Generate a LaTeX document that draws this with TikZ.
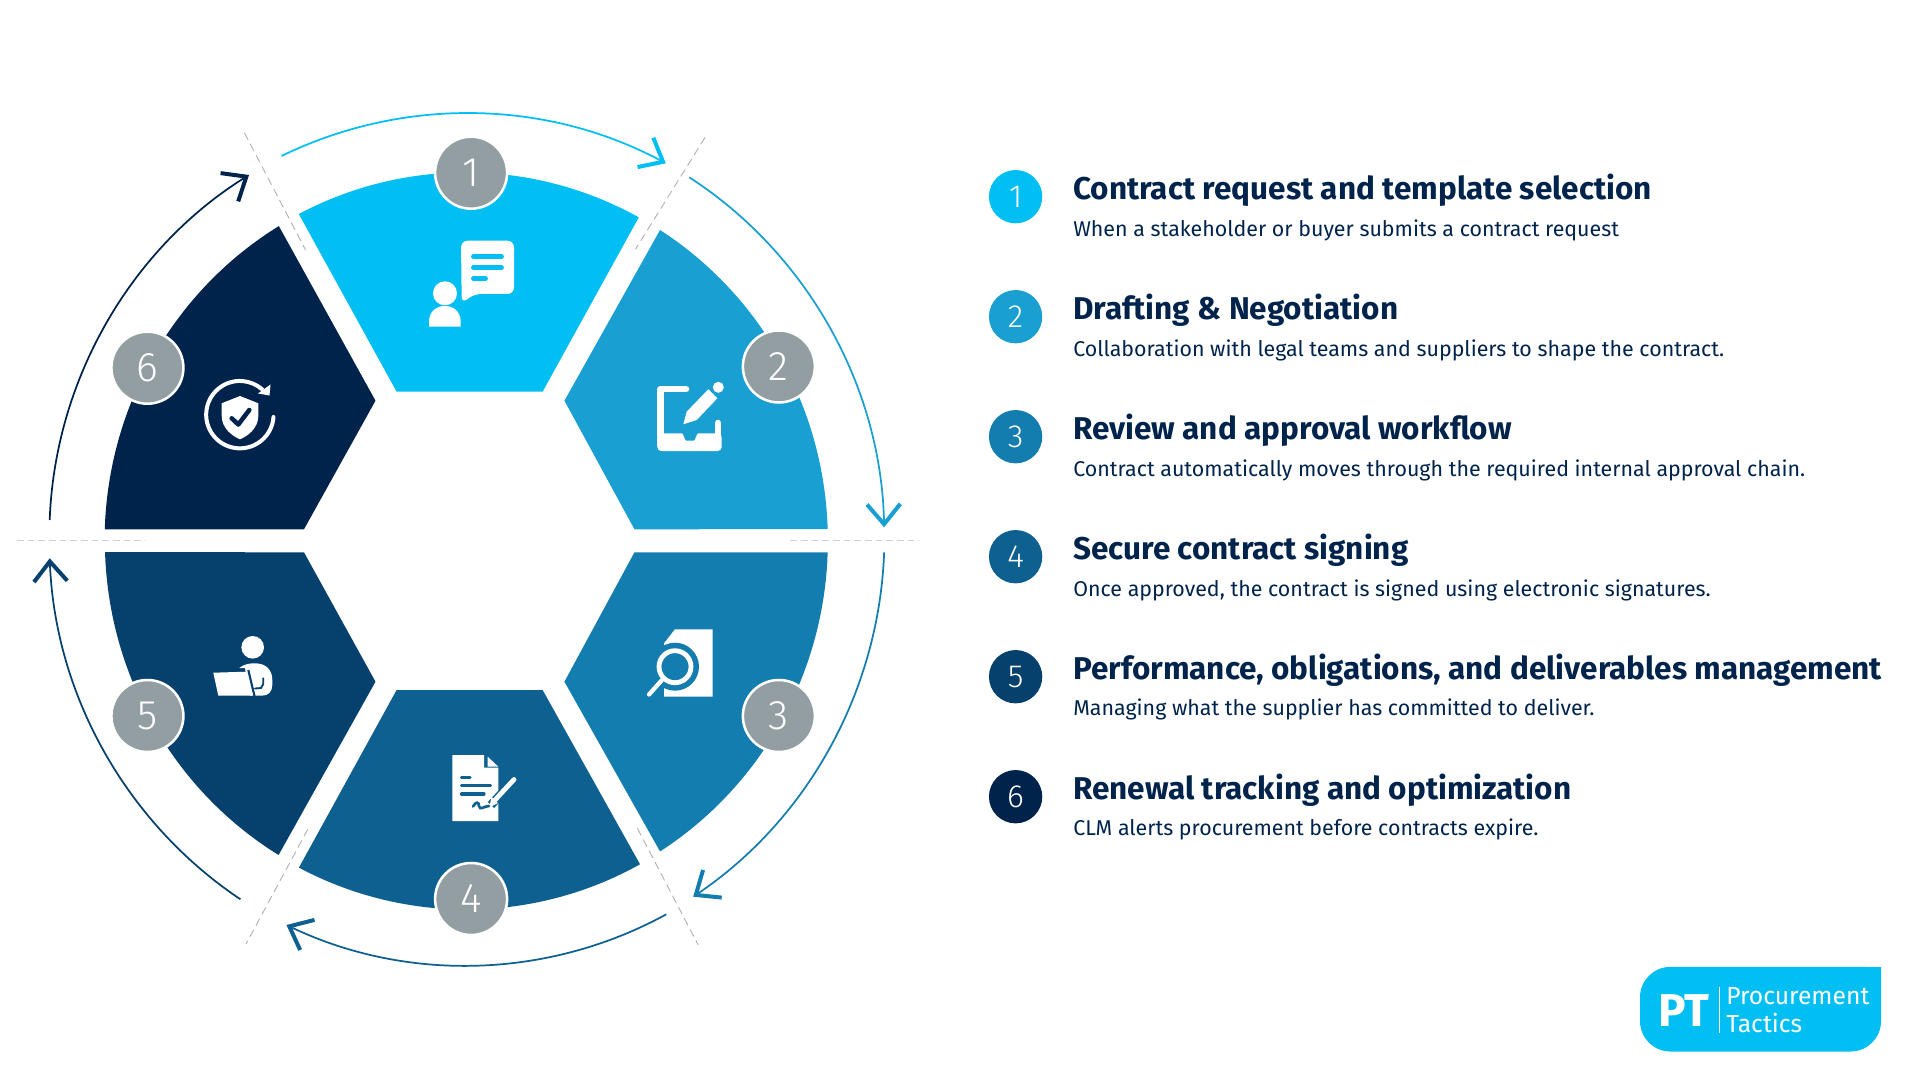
\documentclass[tikz,border=0pt]{standalone}
\usepackage{fontspec}
\usetikzlibrary{arrows.meta}
\setmainfont{Fira Sans}
\newfontfamily\lightfont{Fira Sans}[UprightFont=* Light]
\definecolor{segA}{HTML}{02BFF3}
\definecolor{segB}{HTML}{199FD2}
\definecolor{segC}{HTML}{137DAF}
\definecolor{segD}{HTML}{0E6090}
\definecolor{segE}{HTML}{06416D}
\definecolor{segF}{HTML}{00234C}
\definecolor{badgegray}{HTML}{939EA3}
\tikzset{
  badge/.style={circle,fill=badgegray,draw=white,line width=1.9pt,minimum size=54pt,inner sep=0pt,text=white,font=\lightfont\fontsize{31}{31}\selectfont},
  stepdot/.style={circle,minimum size=40pt,inner sep=0pt,text=white,font=\lightfont\fontsize{24}{24}\selectfont},
  titletext/.style={anchor=base west,inner sep=0pt,text=segF,font=\bfseries\fontsize{23.6}{25}\selectfont},
  subtext/.style={anchor=base west,inner sep=0pt,text=segF,font=\fontsize{16.05}{18}\selectfont},
  flow/.style={line width=1.3pt,-{Straight Barb[length=15pt,width=25pt,line width=3pt]}},
  spoke/.style={draw=black!30,line width=.7pt,dash pattern=on 6pt off 3.5pt},
  rim/.style={draw=black!18,line width=1.1pt,dash pattern=on 5pt off 3pt},
  iconline/.style={draw=white,line cap=round,line join=round}
}
\begin{document}
\begin{tikzpicture}[x=.75pt,y=-.75pt]
\useasboundingbox (0,0) rectangle (1920,1080);
\begin{scope}[xscale=.996]
\fill[segA] (398.2,391.7) -- (300,214) arc [start angle=242.5,end angle=298.6,x radius=363,y radius=368] -- (544.8,391.7) -- cycle;
\fill[segB] (566.7,400.7) -- (662.7,230) arc [start angle=-57.6,end angle=-1.8,x radius=363,y radius=368] -- (637,529.3) -- cycle;
\fill[segC] (637,552.3) -- (831,552.3) arc [start angle=1.8,end angle=57.6,x radius=363,y radius=368] -- (566.7,681.7) -- cycle;
\fill[segD] (398.2,690) -- (544.8,690) -- (642.6,864.3) arc [start angle=61.3,end angle=117.6,x radius=363,y radius=368] -- cycle;
\fill[segE] (305.2,552.3) -- (377,681.7) -- (279.7,855) arc [start angle=121.3,end angle=178.2,x radius=363,y radius=368] -- cycle;
\fill[segF] (105.2,529.3) arc [start angle=181.8,end angle=238.8,x radius=363,y radius=368] -- (377,400.7) -- (305.2,529.3) -- cycle;
\coordinate (sa1) at (245.4,132.7);
\coordinate (sa2) at (306.8,250);
\coordinate (sb1) at (708,137.3);
\coordinate (sb2) at (638,249.3);
\coordinate (sc1) at (640,828.3);
\coordinate (sc2) at (701,945);
\coordinate (sd1) at (309,829.3);
\coordinate (sd2) at (247,944);
\coordinate (re1) at (17,540.7);
\coordinate (re2) at (146,540.7);
\coordinate (rw1) at (793.4,540.7);
\coordinate (rw2) at (922.3,540.7);
\draw[spoke] (sa1) -- (sa2);
\draw[spoke] (sb1) -- (sb2);
\draw[spoke] (sc1) -- (sc2);
\draw[spoke] (sd1) -- (sd2);
\draw[rim] (re1) -- (re2);
\draw[rim] (rw1) -- (rw2);
\coordinate (fa1) at (282.7,156);
\coordinate (fa2) at (668.5,163.3);
\coordinate (fb1) at (692,177.3);
\coordinate (fb2) at (887.7,527.3);
\coordinate (fc1) at (887.7,552.3);
\coordinate (fc2) at (696,896.7);
\coordinate (fd1) at (669,914.3);
\coordinate (fd2) at (287.6,925);
\coordinate (fe1) at (241.4,899.3);
\coordinate (fe2) at (49.9,558.3);
\coordinate (ff1) at (49.9,520);
\coordinate (ff2) at (250,175);
\draw[flow,segA] (fa1) to [bend left=27,looseness=.9] (fa2);
\draw[flow,segB] (fb1) to [bend left=28,looseness=.9] (fb2);
\draw[flow,segC] (fc1) to [bend left=27,looseness=.9] (fc2);
\draw[flow,segD] (fd1) to [bend left=27,looseness=.9] (fd2);
\draw[flow,segE] (fe1) to [bend left=27,looseness=.9] (fe2);
\draw[flow,segF] (ff1) to [bend left=28,looseness=.9] (ff2);
\node[badge] (b1) at (473,172.7) {1};
\node[badge] (b2) at (782,366.5) {2};
\node[badge] (b3) at (782,716) {3};
\node[badge] (b4) at (473,899) {4};
\node[badge] (b5) at (148,716) {5};
\node[badge] (b6) at (148,367.7) {6};
\end{scope}
\fill[white] (445,293.3) circle [radius=12];
\fill[white] (429,326.7) -- (429,322) .. controls (429,311) and (437,306) .. (445,306) .. controls (453,306) and (460.7,311) .. (460.7,322) -- (460.7,326.7) -- cycle;
\fill[white,rounded corners=5pt] (485,240.7) -- (514,240.7) -- (514,294) -- (474,294) -- (461.7,303.5) -- (461,240.7) -- cycle;
\draw[segA,line width=3.6pt,line cap=round] (473.5,256.7) -- (501.5,256.7);
\draw[segA,line width=3.6pt,line cap=round] (473.5,267.7) -- (501.5,267.7);
\draw[segA,line width=3.6pt,line cap=round] (473.5,278.7) -- (485.5,278.7);
\draw[iconline,line width=5pt] (686,389) -- (660.7,389) -- (660.7,445);
\draw[iconline,line width=5pt] (718,423) -- (718,445);
\fill[white,rounded corners=3pt] (657.3,433.3) -- (678,433.3) .. controls (683,433.3) and (685,440.7) .. (690,440.7) .. controls (695,440.7) and (697,433.3) .. (702,433.3) -- (721.7,433.3) -- (721.7,451) -- (657.3,451) -- cycle;
\fill[white] (683.3,424.3) -- (686.7,411.7) -- (708.3,389.3) -- (717.3,398.3) -- (696.7,420) -- cycle;
\fill[white] (718.3,387.3) circle [radius=5.5];
\fill[white] (675,629.3) -- (712.7,629.3) -- (712.7,696.7) -- (664,696.7) -- (664,643.3) -- cycle;
\fill[segC] (675,666.7) circle [radius=24];
\draw[white,line width=3.6pt] (675,666.7) circle [radius=16];
\draw[iconline,line width=3.2pt] (662,680) -- (649,694.5);
\fill[white] (452.3,755) -- (484,755) -- (484,767.7) -- (498.3,767.7) -- (498.3,821) -- (452.3,821) -- cycle;
\fill[white] (487.7,756.7) -- (487.7,766.7) -- (498.3,766.7) -- cycle;
\draw[segD,line width=2.4pt,line cap=round] (461.5,777.3) -- (470,777.3);
\draw[segD,line width=2.4pt,line cap=round] (461.5,785.3) -- (490.5,785.3);
\draw[segD,line width=2.4pt,line cap=round] (461.5,794) -- (484,794);
\draw[segD,line width=6.5pt] (514,780) -- (491,805);
\draw[iconline,line width=3.6pt] (514,779.5) -- (495,800);
\fill[white] (491.5,797) -- (498,803) -- (489.3,807.5) -- cycle;
\draw[segD,line width=2pt,line cap=round] (473,806.5) .. controls (476,801) and (479,802) .. (479,806) .. controls (480,811) and (484,806) .. (489,806);
\fill[white] (252.7,647.3) circle [radius=11.3];
\fill[white] (239.3,668) .. controls (244,664) and (250,663.3) .. (255,663.3) .. controls (266,663.3) and (272.3,670) .. (272.3,680) -- (272.3,685) .. controls (272.3,692) and (268,695.7) .. (262,695.7) -- (250,695.7) -- (245,668) -- cycle;
\draw[segE,line width=1.6pt] (248.3,670) -- (254.5,696);
\draw[segE,line width=1.4pt,line cap=round] (263.3,678.3) -- (263.3,684) -- (261,688) -- (255,688.5);
\fill[white] (213.3,672.7) -- (246.5,671.7) -- (252.5,695.7) -- (218.3,695.7) -- cycle;
\draw[iconline,line width=3pt] (273.5,417) arc [start angle=4,end angle=312,radius=33.7];
\fill[white] (270.5,384.5) -- (269.5,395.5) -- (258,393.5) -- cycle;
\fill[white] (240,396) -- (258.3,403.3) -- (258.3,416) .. controls (258.3,428) and (248,436) .. (240,439.3) .. controls (232,436) and (221.7,428) .. (221.7,416) -- (221.7,403.3) -- cycle;
\draw[segF,line width=3.4pt,line cap=round,line join=round] (231.7,418.3) -- (238.3,424.5) -- (249.3,410);
\node[stepdot,fill=segA] (d1) at (1015.6,196.7) {1};
\node[stepdot,fill=segB] (d2) at (1015.6,316.7) {2};
\node[stepdot,fill=segC] (d3) at (1015.6,436.7) {3};
\node[stepdot,fill=segD] (d4) at (1015.6,556.7) {4};
\node[stepdot,fill=segE] (d5) at (1015.6,676.7) {5};
\node[stepdot,fill=segF] (d6) at (1015.6,796.7) {6};
\node[titletext] (t1) at (1073,199.2) {Contract request and template selection};
\node[subtext] (s1) at (1073,236.3) {When a stakeholder or buyer submits a contract request};
\node[titletext] (t2) at (1073,319.2) {Drafting \& Negotiation};
\node[subtext] (s2) at (1073,356.3) {Collaboration with legal teams and suppliers to shape the contract.};
\node[titletext] (t3) at (1073,439.2) {Review and approval workflow};
\node[subtext] (s3) at (1073,476) {Contract automatically moves through the required internal approval chain.};
\node[titletext] (t4) at (1073,559.2) {Secure contract signing};
\node[subtext] (s4) at (1073,596) {Once approved, the contract is signed using electronic signatures.};
\node[titletext] (t5) at (1073,679.2) {Performance, obligations, and deliverables management};
\node[subtext] (s5) at (1073,715.7) {Managing what the supplier has committed to deliver.};
\node[titletext] (t6) at (1073,799.2) {Renewal tracking and optimization};
\node[subtext] (s6) at (1073,835.5) {CLM alerts procurement before contracts expire.};
\fill[segA] (1881,967) -- (1881,1021.2) arc [start angle=0,end angle=90,radius=30.3] -- (1670.3,1051.5) arc [start angle=90,end angle=180,radius=30.3] -- (1640,997.2) arc [start angle=180,end angle=270,radius=30.3] -- cycle;
\node[anchor=base west,inner sep=0pt,text=white,font=\bfseries\fontsize{34.5}{36}\selectfont] (logo) at (1658,1026.5) {PT};
\coordinate (bar1) at (1719.5,987);
\coordinate (bar2) at (1719.5,1033);
\draw[white,line width=1pt] (bar1) -- (bar2);
\node[anchor=base west,inner sep=0pt,text=white,font=\fontsize{18.5}{20}\selectfont] (lg1) at (1726,1004.5) {Procurement};
\node[anchor=base west,inner sep=0pt,text=white,font=\fontsize{18.5}{20}\selectfont] (lg2) at (1726,1032.5) {Tactics};
\end{tikzpicture}
\end{document}
